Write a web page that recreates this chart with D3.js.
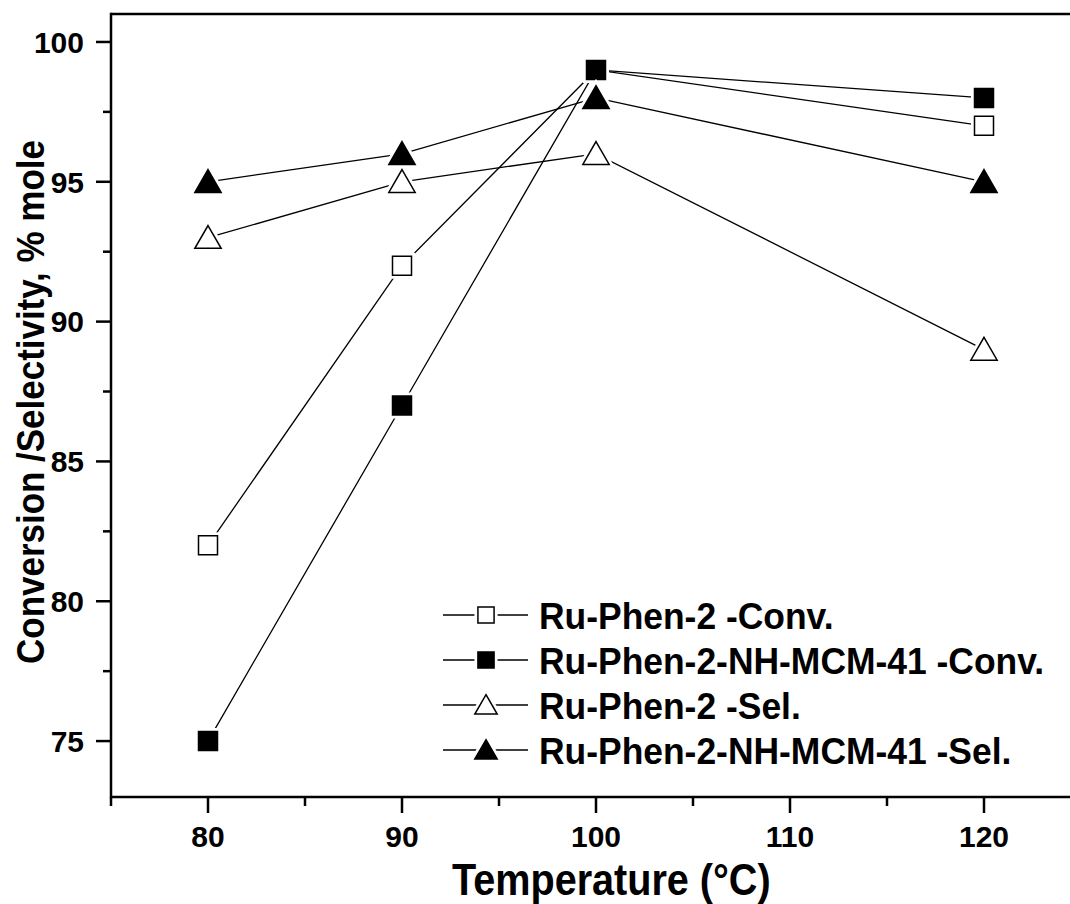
<!DOCTYPE html>
<html><head><meta charset="utf-8">
<script src="https://cdn.jsdelivr.net/npm/d3@7"></script>
<style>body{margin:0;background:#fff}svg{display:block}text{font-family:"Liberation Sans",Arial,sans-serif;font-weight:bold;fill:#000}</style>
</head><body><svg id="c" width="1070" height="904"></svg>
<script>
const temperatures = [80, 90, 100, 120];
const convRuPhen = [82, 92, 99, 97];
const convMCM = [75, 87, 99, 98];
const selRuPhen = [93, 95, 96, 89];
const selMCM = [95, 96, 98, 95];
const seriesNames = ["Ru-Phen-2 -Conv.", "Ru-Phen-2-NH-MCM-41 -Conv.", "Ru-Phen-2 -Sel.", "Ru-Phen-2-NH-MCM-41 -Sel."];
const xTicks = [80, 90, 100, 110, 120];
const xMinor = [75, 85, 95, 105, 115];
const yTicks = [75, 80, 85, 90, 95, 100];
const yMinor = [77.5, 82.5, 87.5, 92.5, 97.5];

const series = [
  {name: seriesNames[0], values: convRuPhen, shape: d3.symbolSquare, fill: "#fff", size: 361},
  {name: seriesNames[1], values: convMCM, shape: d3.symbolSquare, fill: "#000", size: 361},
  {name: seriesNames[2], values: selRuPhen, shape: d3.symbolTriangle, fill: "#fff", size: 300},
  {name: seriesNames[3], values: selMCM, shape: d3.symbolTriangle, fill: "#000", size: 300}
];

const svg = d3.select("#c");
const L = 111, T = 14, B = 797;
const x = d3.scaleLinear().domain([75, 125]).range([L, L + 50 * 19.4]);
const y = d3.scaleLinear().domain([73, 101]).range([B, T]);

// lines
const line = d3.line().x((d, i) => x(temperatures[i])).y(d => y(d));
series.forEach(s => {
  svg.append("path").attr("d", line(s.values)).attr("fill", "none").attr("stroke", "#000").attr("stroke-width", 1.3);
});
// markers
function marker(g, s, cx, cy, scale) {
  const sym = d3.symbol().type(s.shape).size(s.size * scale * scale)();
  const dy = s.shape === d3.symbolTriangle ? 3 * scale : 0;
  g.append("path").attr("d", sym).attr("transform", `translate(${cx},${cy + dy})`)
    .attr("fill", "#fff").attr("stroke", "#fff").attr("stroke-width", 7);
  g.append("path").attr("d", sym).attr("transform", `translate(${cx},${cy + dy})`)
    .attr("fill", s.fill).attr("stroke", "#000").attr("stroke-width", 1.5);
}
series.forEach(s => {
  s.values.forEach((v, i) => marker(svg, s, x(temperatures[i]), y(v), 1));
});

// frame
const W = 1070;
svg.append("line").attr("x1", L).attr("x2", W + 10).attr("y1", T).attr("y2", T).attr("stroke", "#000").attr("stroke-width", 2.5);
svg.append("line").attr("x1", L).attr("x2", W + 10).attr("y1", B).attr("y2", B).attr("stroke", "#000").attr("stroke-width", 2.5);
svg.append("line").attr("x1", L).attr("x2", L).attr("y1", T - 1.25).attr("y2", B + 1.25).attr("stroke", "#000").attr("stroke-width", 2.5);

// x axis ticks
const xa = svg.append("g");
xTicks.forEach(t => {
  xa.append("line").attr("x1", x(t)).attr("x2", x(t)).attr("y1", B).attr("y2", B + 16).attr("stroke", "#000").attr("stroke-width", 2.5);
  xa.append("text").attr("x", x(t)).attr("y", 847).attr("text-anchor", "middle").attr("font-size", 30).text(t);
});
xMinor.forEach(t => {
  xa.append("line").attr("x1", x(t)).attr("x2", x(t)).attr("y1", B).attr("y2", B + 9).attr("stroke", "#000").attr("stroke-width", 2.5);
});
// y axis ticks
yTicks.forEach(t => {
  svg.append("line").attr("x1", L).attr("x2", L - 15).attr("y1", y(t)).attr("y2", y(t)).attr("stroke", "#000").attr("stroke-width", 2.5);
  svg.append("text").attr("x", 84).attr("y", y(t)).attr("dy", "0.36em").attr("text-anchor", "end").attr("font-size", 30).text(t);
});
yMinor.forEach(t => {
  svg.append("line").attr("x1", L).attr("x2", L - 8).attr("y1", y(t)).attr("y2", y(t)).attr("stroke", "#000").attr("stroke-width", 2.5);
});

// titles
svg.append("text").attr("transform", "translate(452,895) scale(0.9,1)").attr("font-size", 44).text("Temperature (°C)");
svg.append("text").attr("transform", "translate(44,402) rotate(-90) scale(0.92,1)").attr("text-anchor", "middle").attr("font-size", 38).text("Conversion /Selectivity, % mole");

// legend
const lg = svg.append("g");
series.forEach((s, i) => {
  const cy = 615 + i * 45;
  lg.append("line").attr("x1", 443).attr("x2", 528).attr("y1", cy).attr("y2", cy).attr("stroke", "#000").attr("stroke-width", 1.3);
  marker(lg, s, 486, cy, 0.85);
  lg.append("text").attr("transform", `translate(539,${cy}) scale(0.945,1)`).attr("dy", "0.36em").attr("font-size", 37.5).text(s.name);
});
</script></body></html>
